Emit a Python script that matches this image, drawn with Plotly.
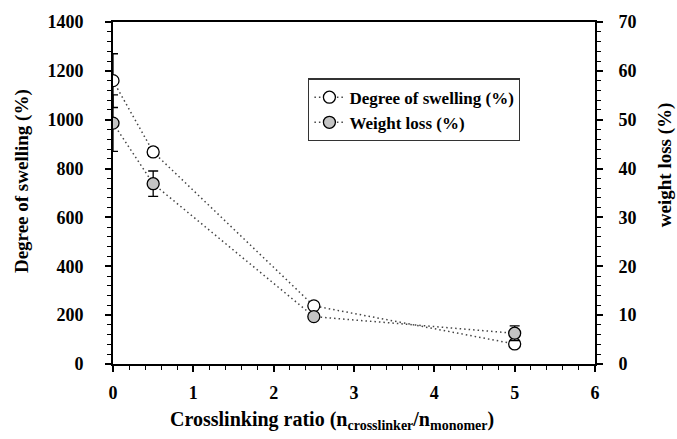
import plotly.graph_objects as go

ratio = [0, 0.5, 2.5, 5]
swelling = [1160, 868, 238, 82]
swelling_err = [110, 17, 12, 12]
weight_loss = [49.3, 36.9, 9.7, 6.3]
weight_loss_err = [5.8, 2.6, 0.5, 1.5]

FONT = "Liberation Serif"

fig = go.Figure()
fig.add_trace(go.Scatter(
    x=ratio, y=swelling, name="Degree of swelling (%)", mode="lines+markers",
    line=dict(color="#444444", width=1.5, dash="1.5px,3px"),
    marker=dict(symbol="circle", size=12, color="white", line=dict(color="black", width=1.3)),
    error_y=dict(type="data", array=swelling_err, color="black", thickness=1.3, width=5),
))
fig.add_trace(go.Scatter(
    x=ratio, y=weight_loss, name="Weight loss (%)", mode="lines+markers", yaxis="y2",
    line=dict(color="#444444", width=1.5, dash="1.5px,3px"),
    marker=dict(symbol="circle", size=12, color="#c4c4c4", line=dict(color="black", width=1.3)),
    error_y=dict(type="data", array=weight_loss_err, color="black", thickness=1.3, width=5),
))

tickfont = dict(family=FONT, size=18, color="black", weight="bold")
common = dict(showgrid=False, zeroline=False, showline=True, linecolor="black", linewidth=2,
              ticks="outside", ticklen=6, tickwidth=1.5, tickcolor="black", tickfont=tickfont)

fig.update_layout(
    width=677, height=439,
    margin=dict(l=113, r=82, t=20, b=75),
    paper_bgcolor="white", plot_bgcolor="white",
    font=dict(family=FONT, color="black"),
    showlegend=True,
    legend=dict(x=0.405, y=0.835, xanchor="left", yanchor="top",
                bgcolor="white", bordercolor="#333333", borderwidth=1.2,
                font=dict(family=FONT, size=17, color="black", weight="bold"),
                tracegroupgap=0, itemwidth=30),
    xaxis=dict(range=[0, 6], dtick=1, mirror=True, ticklabelstandoff=5,
               minor=dict(dtick=0.2, ticks="outside", ticklen=4, tickcolor="black", tickwidth=1.2),
               **common),
    yaxis=dict(range=[0, 1400], dtick=200, ticklabelstandoff=18,
               minor=dict(dtick=40, ticks="outside", ticklen=4, tickcolor="black", tickwidth=1.2),
               **common),
    yaxis2=dict(range=[0, 70], dtick=10, overlaying="y", side="right", ticklabelstandoff=12,
                minor=dict(dtick=2, ticks="outside", ticklen=4, tickcolor="black", tickwidth=1.2),
                **common),
    annotations=[
        dict(text="Crosslinking ratio (n<sub>crosslinker</sub>/n<sub>monomer</sub>)",
             xref="paper", yref="paper", x=0.454, y=-0.165, xanchor="center", yanchor="middle",
             showarrow=False, font=dict(family=FONT, size=20, color="black", weight="bold")),
        dict(text="Degree of swelling (%)", textangle=-90,
             xref="paper", yref="paper", x=(22 - 113) / 482, y=(364 - 180) / 344,
             xanchor="center", yanchor="middle",
             showarrow=False, font=dict(family=FONT, size=19, color="black", weight="bold")),
        dict(text="weight loss (%)", textangle=-90,
             xref="paper", yref="paper", x=(665 - 113) / 482, y=(364 - 164) / 344,
             xanchor="center", yanchor="middle",
             showarrow=False, font=dict(family=FONT, size=19, color="black", weight="bold")),
    ],
)

fig.write_html("out.html", config={"displayModeBar": False},
               post_script="document.body.style.margin='0';")
